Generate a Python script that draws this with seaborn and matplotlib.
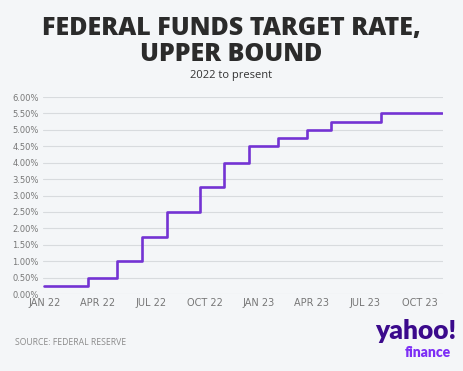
import pandas as pd
import seaborn as sns
import matplotlib.pyplot as plt
from matplotlib.ticker import FuncFormatter

# upper bound of the fed funds target rate, change dates
dates = ["2022-01-01", "2022-03-17", "2022-05-05", "2022-06-16", "2022-07-28",
         "2022-09-22", "2022-11-03", "2022-12-15", "2023-02-02", "2023-03-23",
         "2023-05-04", "2023-07-27", "2023-11-08"]
rates = [0.25, 0.50, 1.00, 1.75, 2.50, 3.25, 4.00, 4.50, 4.75, 5.00, 5.25, 5.50, 5.50]

tick_dates = ["2022-01-01", "2022-04-01", "2022-07-01", "2022-10-01",
              "2023-01-01", "2023-04-01", "2023-07-01", "2023-10-01"]
tick_labels = ["JAN 22", "APR 22", "JUL 22", "OCT 22", "JAN 23", "APR 23", "JUL 23", "OCT 23"]

df = pd.DataFrame({"date": pd.to_datetime(dates), "rate": rates})

bg = "#f4f6f8"
sns.set_style("white")
plt.rcParams["font.family"] = ["Open Sans", "DejaVu Sans"]

fig = plt.figure(figsize=(4.63, 3.71), dpi=100, facecolor=bg)
ax = fig.add_axes([0.093, 0.2075, 0.864, 0.531], facecolor=bg)

sns.lineplot(data=df, x="date", y="rate", drawstyle="steps-post",
             color="#7433d3", linewidth=1.9, ax=ax)

ax.set_ylim(0, 6)
ax.set_yticks([i * 0.5 for i in range(13)])
ax.yaxis.set_major_formatter(FuncFormatter(lambda v, p: f"{v:.2f}%"))
ax.set_xlim(pd.Timestamp("2021-12-30"), pd.Timestamp("2023-11-10"))
ax.set_xticks(pd.to_datetime(tick_dates))
ax.set_xticklabels(tick_labels)

ax.grid(axis="y", color="#d8dbde", linewidth=0.8)
ax.set_axisbelow(True)
for s in ax.spines.values():
    s.set_visible(False)
ax.set_xlabel("")
ax.set_ylabel("")
ax.tick_params(length=0, labelsize=6, labelcolor="#777777", pad=3)
for lab in ax.get_xticklabels() + ax.get_yticklabels():
    lab.set_family(["Liberation Sans Narrow", "DejaVu Sans"])
for lab in ax.get_xticklabels():
    lab.set_fontsize(7)

fig.text(0.5, 0.958, "FEDERAL FUNDS TARGET RATE,\nUPPER BOUND", ha="center", va="top",
         fontsize=18, fontweight="heavy", color="#2b2b2b", linespacing=1.05)
fig.text(0.5, 0.797, "2022 to present", ha="center", va="center",
         fontsize=8, color="#333333")
fig.text(0.032, 0.078, "SOURCE: FEDERAL RESERVE", ha="left", va="center",
         fontsize=6.2, color="#8a8a8a")
fig.text(0.985, 0.075, "yahoo!", ha="right", va="bottom", fontsize=19,
         fontweight="heavy", color="#3b0a8c", family=["Lato", "DejaVu Sans"])
fig.text(0.973, 0.033, "finance", ha="right", va="bottom", fontsize=10,
         fontweight="heavy", color="#7d2ef5", family=["Lato", "DejaVu Sans"])

fig.savefig("out.png", dpi=100, facecolor=bg)
